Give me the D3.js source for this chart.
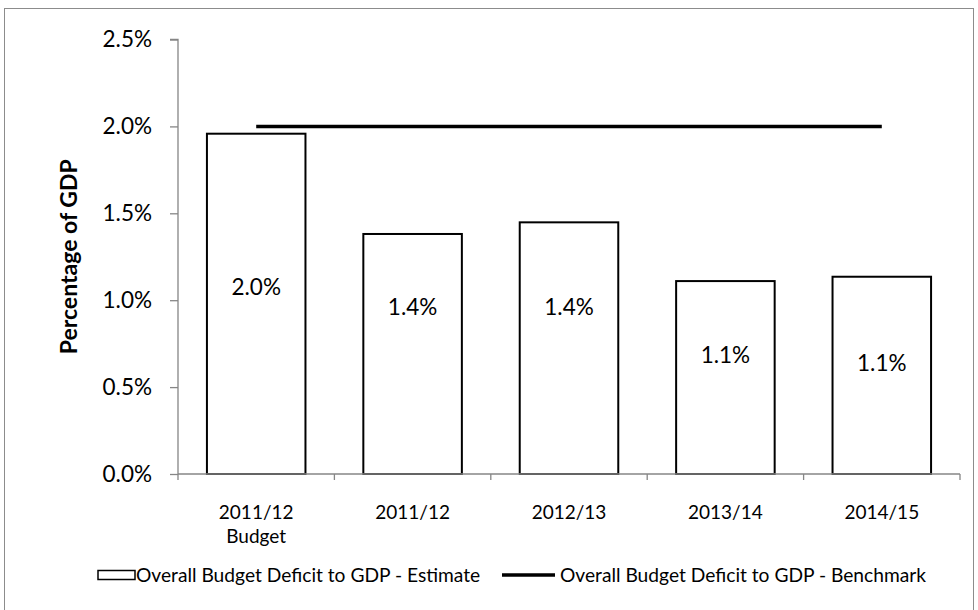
<!DOCTYPE html>
<html>
<head>
<meta charset="utf-8">
<script src="https://cdn.jsdelivr.net/npm/d3@7"></script>
<style>
  html, body { margin: 0; padding: 0; background: #fff; }
  svg { display: block; font-family: Lato, "Noto Sans", sans-serif; }
</style>
</head>
<body>
<svg id="chart" width="978" height="610"></svg>
<script>
// Overall budget deficit as a share of GDP
const categories = ["2011/12\nBudget", "2011/12", "2012/13", "2013/14", "2014/15"];
const estimate = [1.958, 1.381, 1.448, 1.11, 1.135];
const estimateLabels = ["2.0%", "1.4%", "1.4%", "1.1%", "1.1%"];
const benchmark = [2.0, 2.0, 2.0, 2.0, 2.0];
const yTicks = [0, 0.5, 1.0, 1.5, 2.0, 2.5];
const seriesNames = ["Overall Budget Deficit to GDP - Estimate", "Overall Budget Deficit to GDP - Benchmark"];

// Vertical anchor (in % of GDP) for each value label inside its bar
const labelAnchor = [1.075, 0.96, 0.96, 0.685, 0.64];

const svg = d3.select("#chart");
const margin = { left: 178, right: 960, top: 39.5, bottom: 474 };

// outer frame
svg.append("rect")
  .attr("x", 4.5).attr("y", 8.5)
  .attr("width", 969).attr("height", 620)
  .attr("fill", "none").attr("stroke", "#8c8c8c").attr("stroke-width", 1);

const x = d3.scaleBand()
  .domain(categories)
  .range([margin.left, margin.right])
  .paddingInner(0.37)
  .paddingOuter(0.185);

const y = d3.scaleLinear().domain([0, 2.5]).range([margin.bottom, margin.top]);

const axisColor = "#868686";

// bars
svg.append("g").selectAll("rect")
  .data(estimate)
  .join("rect")
  .attr("x", (d, i) => x(categories[i]))
  .attr("y", d => y(d))
  .attr("width", x.bandwidth())
  .attr("height", d => y(0) - y(d))
  .attr("fill", "#fff")
  .attr("stroke", "#000")
  .attr("stroke-width", 2);

// value labels
svg.append("g").selectAll("text")
  .data(estimateLabels)
  .join("text")
  .attr("x", (d, i) => x(categories[i]) + x.bandwidth() / 2)
  .attr("y", (d, i) => y(labelAnchor[i]))
  .attr("dy", "0.36em")
  .attr("text-anchor", "middle")
  .attr("font-size", 22.5)
  .attr("fill", "#000")
  .text(d => d);

// benchmark line through the band centres
const line = d3.line()
  .x((d, i) => x(categories[i]) + x.bandwidth() / 2)
  .y(d => y(d));
svg.append("path")
  .datum(benchmark)
  .attr("d", line)
  .attr("fill", "none")
  .attr("stroke", "#000")
  .attr("stroke-width", 3.5);

// y axis
const yAxis = svg.append("g")
  .attr("transform", `translate(${margin.left},0)`)
  .call(d3.axisLeft(y).tickValues(yTicks).tickSize(8).tickPadding(18)
    .tickFormat(d => d3.format(".1f")(d) + "%"));
yAxis.selectAll("path, line").attr("stroke", axisColor).attr("stroke-width", 1.3);
yAxis.select(".domain").attr("d", `M-8,${y(2.5)}H0V${y(0)}`);
yAxis.selectAll("text").attr("font-size", 22.5).attr("fill", "#000")
  .attr("font-family", "Lato, sans-serif");

// x axis with ticks at category boundaries
const xAxisG = svg.append("g").attr("transform", `translate(0,${margin.bottom})`);
xAxisG.append("line")
  .attr("x1", margin.left).attr("x2", margin.right)
  .attr("stroke", axisColor).attr("stroke-width", 1.3);
const bandEdge = i => margin.left + i * (margin.right - margin.left) / categories.length;
xAxisG.selectAll("line.tick")
  .data(d3.range(categories.length + 1))
  .join("line")
  .attr("class", "tick")
  .attr("x1", bandEdge)
  .attr("x2", bandEdge)
  .attr("y1", 0).attr("y2", 6)
  .attr("stroke", axisColor).attr("stroke-width", 1.3);

const catText = xAxisG.selectAll("text")
  .data(categories)
  .join("text")
  .attr("x", d => x(d) + x.bandwidth() / 2)
  .attr("y", 45)
  .attr("text-anchor", "middle")
  .attr("font-size", 19)
  .attr("fill", "#000");
catText.each(function(d) {
  const t = d3.select(this);
  d.split("\n").forEach((part, k) => {
    t.append("tspan")
      .attr("x", x(d) + x.bandwidth() / 2)
      .attr("dy", k === 0 ? 0 : 24)
      .text(part);
  });
});

// y axis title
svg.append("text")
  .attr("transform", `translate(77,${(y(0) + y(2.5)) / 2}) rotate(-90)`)
  .attr("text-anchor", "middle")
  .attr("font-size", 23)
  .attr("font-weight", "bold")
  .attr("fill", "#000")
  .text("Percentage of GDP");

// legend
const legend = svg.append("g").attr("transform", "translate(0,575)");
legend.append("rect")
  .attr("x", 98).attr("y", -4.5)
  .attr("width", 37).attr("height", 9)
  .attr("fill", "#fff").attr("stroke", "#000").attr("stroke-width", 1.5);
legend.append("text")
  .attr("x", 136).attr("y", 0).attr("dy", "0.36em")
  .attr("font-size", 19.2).attr("fill", "#000")
  .text(seriesNames[0]);
legend.append("line")
  .attr("x1", 502).attr("x2", 555)
  .attr("y1", 0).attr("y2", 0)
  .attr("stroke", "#000").attr("stroke-width", 3.5);
legend.append("text")
  .attr("x", 560).attr("y", 0).attr("dy", "0.36em")
  .attr("font-size", 19.2).attr("fill", "#000")
  .text(seriesNames[1]);
</script>
</body>
</html>
